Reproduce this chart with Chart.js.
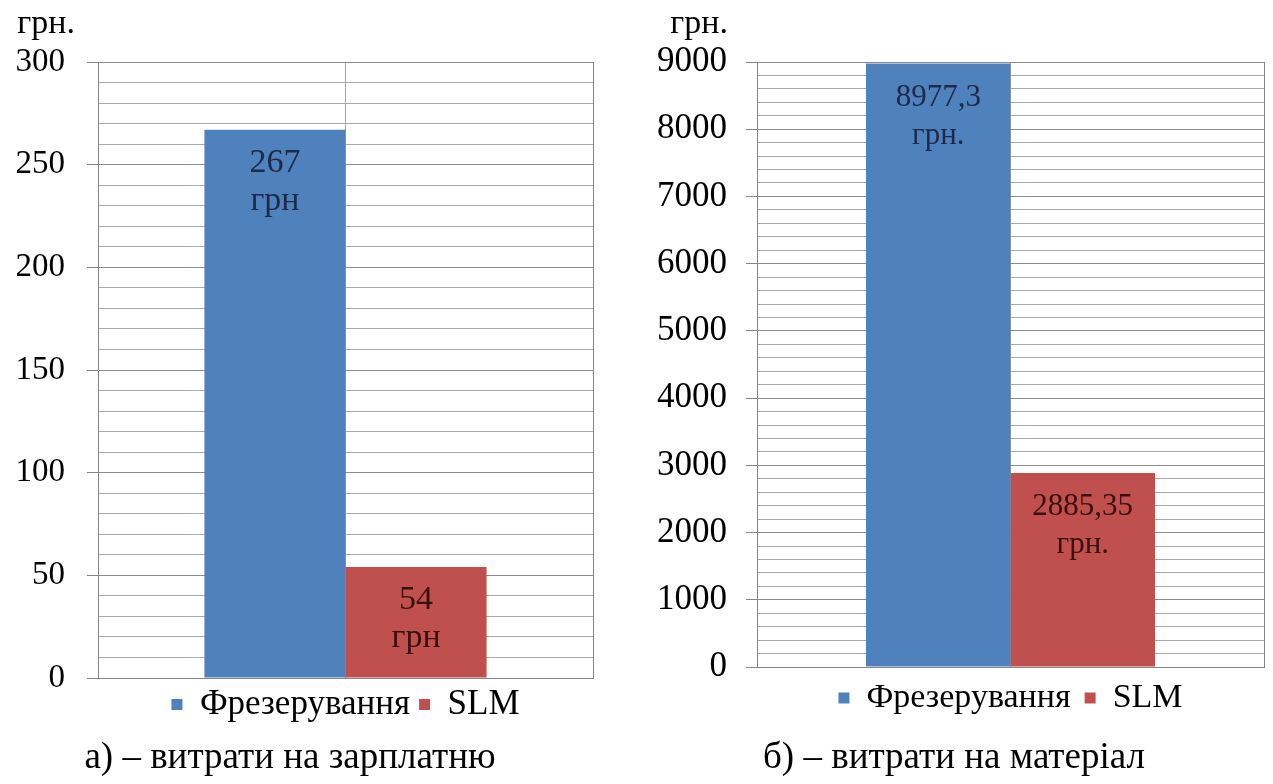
<!DOCTYPE html>
<html lang="uk">
<head>
<meta charset="utf-8">
<title>Витрати: фрезерування та SLM</title>
<script src="https://cdn.jsdelivr.net/npm/chart.js@4.4.1/dist/chart.umd.min.js"></script>
<style>
  html, body { margin: 0; padding: 0; background: #fff; }
  body { width: 1273px; height: 784px; overflow: hidden; position: relative;
         font-family: 'Liberation Serif', 'Times New Roman', serif; }
  canvas { position: absolute; top: 0; }
  #wages { left: 0; }
  #material { left: 640px; }
  .caption { position: absolute; top: 737px; font-size: 37px; line-height: 37px;
             text-align: center; color: #000; white-space: nowrap; }
</style>
</head>
<body>
<canvas id="wages" width="722" height="784"></canvas>
<canvas id="material" width="750" height="784"></canvas>
<div class="caption" style="left:0;width:580px">а) – витрати на зарплатню</div>
<div class="caption" style="left:660px;width:588px">б) – витрати на матеріал</div>
<script>
// One category, two technologies compared side by side
const categories = [''];
const seriesNames = ['Фрезерування', 'SLM'];

// Wage costs, UAH
const wagesMilling = [267];
const wagesSlm = [54];
const wagesTickLabels = [0, 50, 100, 150, 200, 250, 300];

// Material costs, UAH
const materialMilling = [8977.3];
const materialSlm = [2885.35];
const materialTickLabels = [0, 1000, 2000, 3000, 4000, 5000, 6000, 7000, 8000, 9000];

const seriesColors = ['#4F81BD', '#C0504D'];
const valueTextColors = ['#1d2a4a', '#3a0f0f'];

Chart.defaults.font.family = "'Liberation Serif', 'Times New Roman', serif";
Chart.defaults.color = '#000';

// "грн." written above the value axis
const unitLabelPlugin = {
  id: 'unitLabel',
  afterDraw(chart, args, opts) {
    const ctx = chart.ctx;
    ctx.save();
    ctx.font = `${opts.size}px ${Chart.defaults.font.family}`;
    ctx.fillStyle = '#000';
    ctx.textAlign = 'right';
    ctx.textBaseline = 'alphabetic';
    ctx.fillText(opts.text, chart.chartArea.left - opts.gap, opts.baseline);
    ctx.restore();
  }
};

// Value + currency written inside the top of each bar
const barValuePlugin = {
  id: 'barValues',
  afterDatasetsDraw(chart, args, opts) {
    const ctx = chart.ctx;
    ctx.save();
    ctx.font = `${opts.size}px ${Chart.defaults.font.family}`;
    ctx.textAlign = 'center';
    ctx.textBaseline = 'alphabetic';
    chart.data.datasets.forEach((ds, i) => {
      const meta = chart.getDatasetMeta(i);
      meta.data.forEach((bar, j) => {
        const value = ds.data[j];
        const lines = [String(value).replace('.', ','), opts.unit];
        ctx.fillStyle = ds.valueColor;
        lines.forEach((line, k) => ctx.fillText(line, bar.x, bar.y + opts.baselines[k]));
      });
    });
    ctx.restore();
  }
};

function costChart(id, cfg) {
  const isMajor = v => cfg.tickLabels.includes(v);
  return new Chart(document.getElementById(id), {
    type: 'bar',
    data: {
      labels: categories,
      datasets: [
        { label: seriesNames[0], data: cfg.milling, backgroundColor: seriesColors[0], valueColor: valueTextColors[0] },
        { label: seriesNames[1], data: cfg.slm, backgroundColor: seriesColors[1], valueColor: valueTextColors[1] }
      ]
    },
    options: {
      responsive: false,
      animation: false,
      devicePixelRatio: 1,
      layout: { padding: { top: 62, left: 0, right: cfg.padRight, bottom: cfg.padBottom } },
      datasets: { bar: { categoryPercentage: 0.57, barPercentage: 1, borderWidth: 0 } },
      scales: {
        x: {
          grid: { offset: false, color: '#a6a6a6', drawTicks: false },
          border: { color: '#868686' },
          ticks: { display: false },
          afterFit: s => { s.height = 0; }
        },
        y: {
          min: 0,
          max: cfg.max,
          ticks: {
            stepSize: cfg.step,
            autoSkip: false,
            maxTicksLimit: 1000,
            padding: cfg.tickPad,
            color: '#000',
            font: { size: cfg.tickSize },
            callback: v => (isMajor(v) ? String(v) : '')
          },
          grid: {
            color: c => (isMajor(c.tick.value) ? '#8c8c8c' : '#a8a8a8'),
            tickColor: c => (isMajor(c.tick.value) ? '#868686' : 'rgba(0,0,0,0)'),
            tickLength: 11
          },
          border: { color: '#868686' },
          afterFit: s => { s.width = cfg.axisWidth; }
        },
        edge: {
          type: 'linear',
          position: 'right',
          ticks: { display: false },
          grid: { drawOnChartArea: false, drawTicks: false },
          border: { color: '#868686' },
          afterFit: s => { s.width = 0; }
        }
      },
      plugins: {
        legend: {
          position: 'bottom',
          fullSize: false,
          labels: { boxWidth: 11, boxHeight: 11, padding: cfg.legendPad, color: '#000', font: { size: cfg.legendSize } }
        },
        tooltip: { enabled: false },
        unitLabel: { text: 'грн.', size: 34, gap: cfg.unitGap, baseline: 33 },
        barValues: { unit: cfg.unit, size: cfg.valueSize, baselines: [42, 80] }
      }
    },
    plugins: [unitLabelPlugin, barValuePlugin]
  });
}

costChart('wages', {
  milling: wagesMilling, slm: wagesSlm, tickLabels: wagesTickLabels,
  max: 300, step: 10, unit: 'грн',
  axisWidth: 98, padRight: 129, padBottom: 52, legendPad: 9, legendSize: 35,
  tickPad: 22, tickSize: 33, unitGap: 23, valueSize: 34
});

costChart('material', {
  milling: materialMilling, slm: materialSlm, tickLabels: materialTickLabels,
  max: 9000, step: 200, unit: 'грн.',
  axisWidth: 117, padRight: 126, padBottom: 59, legendPad: 14, legendSize: 34,
  tickPad: 19, tickSize: 35, unitGap: 29, valueSize: 31
});
</script>
</body>
</html>
